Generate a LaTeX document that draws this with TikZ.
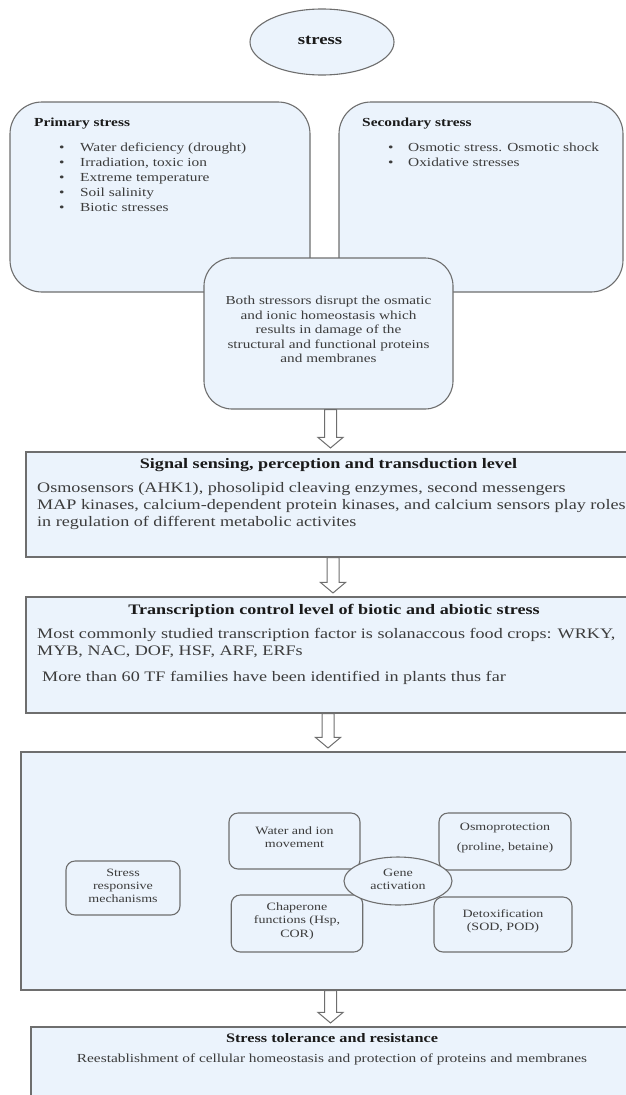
\documentclass[tikz,border=0pt]{standalone}
\usepackage{fontspec}
\setmainfont{Liberation Serif}[FakeStretch=1.25]
\usetikzlibrary{shapes.geometric,calc}
\definecolor{boxfill}{HTML}{EBF3FC}
\definecolor{boxline}{HTML}{6E6E6E}
\definecolor{bodytext}{HTML}{3C3C3C}
\definecolor{titletext}{HTML}{1A1A1A}
\newcommand{\myfs}[2]{\fontsize{#1}{#2}\selectfont}
\newcommand{\blockarrow}[2]{%
  \draw[arrowline] let \p1=(#1), \p2=(#2) in
    (\x1-6pt,\y1) -- (\x1-6pt,\y2+14pt) -- (\x1-12.5pt,\y2+14pt) -- (\x1,\y2+3.5pt)
    -- (\x1+12.5pt,\y2+14pt) -- (\x1+6pt,\y2+14pt) -- (\x1+6pt,\y1) -- cycle;}
\begin{document}
\begin{tikzpicture}[x=1pt,y=-1pt,
  box/.style={draw=boxline, fill=boxfill, line width=1.1pt, inner sep=0, rectangle},
  rbox/.style={box, rounded corners=#1},
  ebox/.style={draw=boxline, fill=boxfill, line width=1.1pt, inner sep=0, ellipse},
  arrowline/.style={draw=boxline, fill=white, line width=1pt, line join=miter},
  ttl/.style={inner sep=0, text=titletext, font=\bfseries\myfs{#1}{#1}},
  bod/.style={inner sep=0, text=bodytext, font=\myfs{#1}{#1}},
  small/.style={inner sep=0, text=bodytext, font=\myfs{11.2}{13.3}, align=center}
]
\useasboundingbox (0,0) rectangle (626,1095);
\clip (0,0) rectangle (626,1095);

% top ellipse
\node[ebox, minimum width=144pt, minimum height=66pt] (stress) at (322,42) {};
\node[ttl=15, anchor=base] (stresst) at (320,44) {stress};

% primary / secondary
\node[rbox=32pt, minimum width=300pt, minimum height=190pt] (prim) at (160,197) {};
\node[rbox=32pt, minimum width=284pt, minimum height=190pt] (sec) at (481,197) {};

\node[ttl=12.3, anchor=base west] (primt) at (34,126.7) {Primary stress};
\foreach \t [count=\i] in {Water deficiency (drought), {Irradiation, toxic ion}, Extreme temperature, Soil salinity, Biotic stresses}{
  \node[bod=12.3, anchor=base west] (primb\i) at (59,136+15*\i) {\textbullet};
  \node[bod=12.3, anchor=base west] (prim\i) at (80,136+15*\i) {\t};
}
\node[ttl=12.3, anchor=base west] (sect) at (362,126.7) {Secondary stress};
\foreach \t [count=\i] in {Osmotic stress. Osmotic shock, Oxidative stresses}{
  \node[bod=12.3, anchor=base west] (secb\i) at (388,136+15*\i) {\textbullet};
  \node[bod=12.3, anchor=base west] (sec\i) at (408,136+15*\i) {\t};
}

% center box
\node[rbox=28pt, minimum width=249pt, minimum height=151pt] (cen) at (328.5,333.5) {};
\foreach \t [count=\i] in {Both stressors disrupt the osmatic, and ionic homeostasis which, results in damage of the, structural and functional proteins, and membranes}{
  \node[bod=12.2, anchor=base] (cen\i) at (328.5,290.2+14.5*\i) {\t};
}

% signal box
\node[box, minimum width=614pt, minimum height=105pt] (sig) at (333,504.5) {};
\node[ttl=14.5, anchor=base] (sigt) at (328.5,468.4) {Signal sensing, perception and transduction level};
\node[bod=14.5, anchor=base west] (sig1) at (37,492.3) {Osmosensors (AHK1), phosolipid cleaving enzymes, second messengers};
\node[bod=14.5, anchor=base west] (sig2) at (37,509.4) {MAP kinases, calcium-dependent protein kinases, and calcium sensors play roles};
\node[bod=14.5, anchor=base west] (sig3) at (37,526.3) {in regulation of different metabolic activites};

% transcription box
\node[box, minimum width=614pt, minimum height=116pt] (tra) at (333,655) {};
\node[ttl=14.5, anchor=base] (trat) at (334,614.4) {Transcription control level of biotic and abiotic stress};
\node[bod=14.5, anchor=base west] (tra1) at (37,638.3) {Most commonly studied transcription factor is solanaccous food crops: WRKY,};
\node[bod=14.5, anchor=base west] (tra2) at (37,655.8) {MYB, NAC, DOF, HSF, ARF, ERFs};
\node[bod=14.5, anchor=base west] (tra3) at (42,681.3) {More than 60 TF families have been identified in plants thus far};

% big box
\node[box, minimum width=619pt, minimum height=238pt] (big) at (330.5,871) {};
\node[rbox=9pt, minimum width=114pt, minimum height=54pt] (resp) at (123,888) {};
\node[small] (respt) at (123,886) {Stress\\responsive\\mechanisms};
\node[rbox=9pt, minimum width=131pt, minimum height=56pt] (water) at (294.5,841) {};
\node[small] (watert) at (294.5,837) {Water and ion\\movement};
\node[rbox=9pt, minimum width=132pt, minimum height=57pt] (osmo) at (505,841.5) {};
\node[small] (osmot) at (505,838) {Osmoprotection\\[6pt](proline, betaine)};
\node[rbox=9pt, minimum width=131.5pt, minimum height=57pt] (chap) at (297,923.5) {};
\node[small] (chapt) at (297,921) {Chaperone\\functions (Hsp,\\COR)};
\node[rbox=9pt, minimum width=138pt, minimum height=55pt] (detox) at (503,924.5) {};
\node[small] (detoxt) at (503,921) {Detoxification\\(SOD, POD)};
\node[ebox, minimum width=108pt, minimum height=48pt] (gene) at (398,881) {};
\node[small] (genet) at (398,879.5) {Gene\\activation};

% bottom box
\node[box, minimum width=609pt, minimum height=83pt] (tol) at (335.5,1068.5) {};
\node[ttl=13, anchor=base] (tolt) at (332,1042) {Stress tolerance and resistance};
\node[bod=12.3, anchor=base] (tolb) at (332,1062.7) {Reestablishment of cellular homeostasis and protection of proteins and membranes};

% arrows
\coordinate (ax1) at (330.5,0);
\coordinate (ax2) at (333,0);
\coordinate (ax3) at (328,0);
\coordinate (ax4) at (330.5,0);
\blockarrow{cen.south -| ax1}{sig.north -| ax1}
\blockarrow{sig.south -| ax2}{tra.north -| ax2}
\blockarrow{tra.south -| ax3}{big.north -| ax3}
\blockarrow{big.south -| ax4}{tol.north -| ax4}
\end{tikzpicture}
\end{document}
